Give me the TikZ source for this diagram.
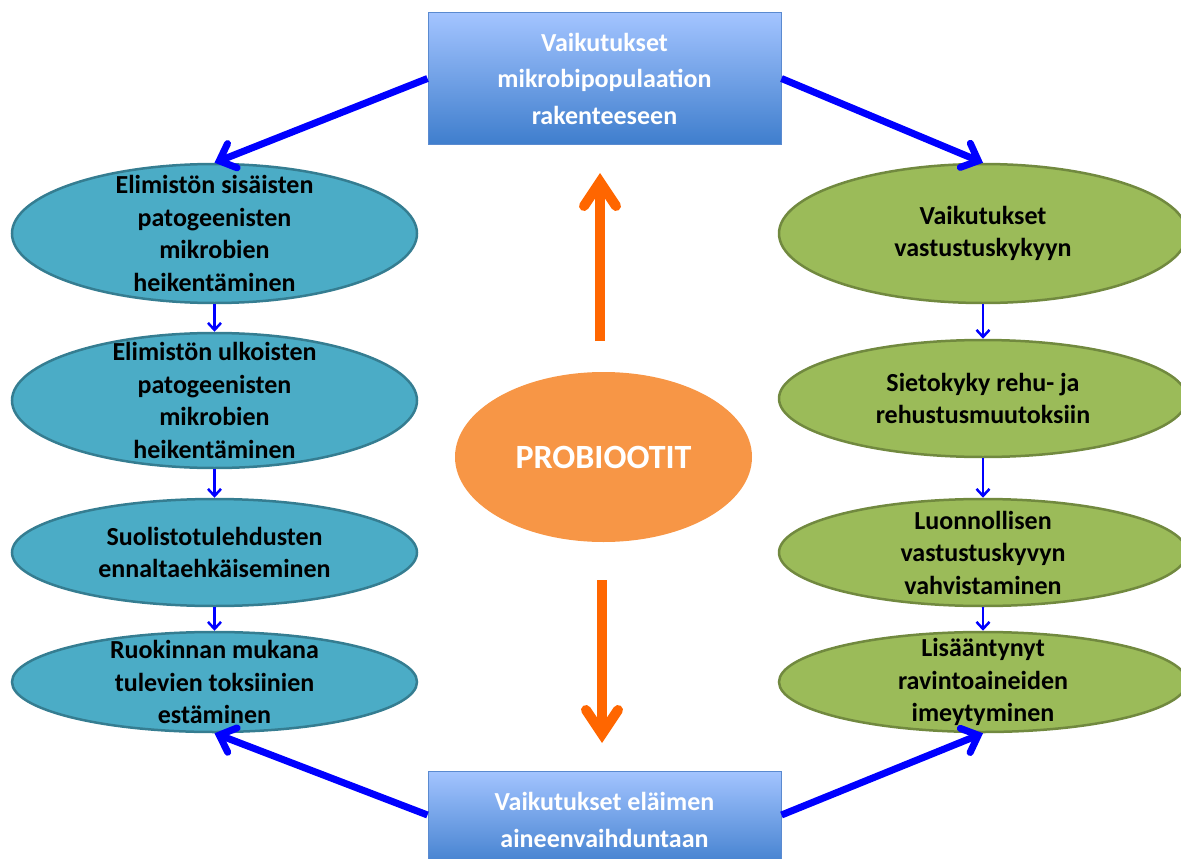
\documentclass[tikz,border=0pt]{standalone}
\usepackage{fontspec}
\setmainfont{Carlito}
\usetikzlibrary{arrows.meta,shapes.geometric}
\definecolor{tealF}{HTML}{4BACC6}
\definecolor{tealD}{HTML}{357D91}
\definecolor{greenF}{HTML}{9BBB59}
\definecolor{greenD}{HTML}{71893F}
\definecolor{orangeF}{HTML}{F79646}
\definecolor{boxTop}{HTML}{A3C4FF}
\definecolor{boxBot}{HTML}{3F7ECD}
\definecolor{boxLine}{HTML}{5A8AD0}
\definecolor{arrBlue}{HTML}{0000FF}
\definecolor{arrOrange}{HTML}{FF6600}
\begin{document}
\begin{tikzpicture}[x=1pt,y=-1pt,
  ell/.style={ellipse, inner sep=0pt, line width=2.5pt},
  lell/.style={ell, fill=tealF, draw=tealD},
  rell/.style={ell, fill=greenF, draw=greenD},
  etext/.style={font=\fontsize{26}{32.5}\selectfont\bfseries, align=center, inner sep=0pt, text=black},
  btext/.style={font=\fontsize{26}{36.5}\selectfont\bfseries, align=center, inner sep=0pt, text=white},
  gbox/.style={rectangle, inner sep=0pt, top color=boxTop, bottom color=boxBot, draw=boxLine, line width=1pt},
  bigarrow/.style={draw=arrBlue, line width=7pt, -{Straight Barb[length=14pt,width=26pt,line cap=round,line join=miter]}},
  smallarrow/.style={draw=arrBlue, line width=2.5pt, -{Straight Barb[length=7pt,width=13pt]}},
  orangearrow/.style={draw=arrOrange, line width=10pt, -{Straight Barb[length=24pt,width=32pt,line cap=round,line join=miter]}},
]
\useasboundingbox (0,0) rectangle (1181,859);
\clip (0,0) rectangle (1181,859);

% boxes
\node[gbox, minimum width=353pt, minimum height=131pt] (T) at (604.5,78.5) {};
\node[btext] (Tt) at (T.center) {Vaikutukset\\mikrobipopulaation\\rakenteeseen};
\node[gbox, minimum width=353pt, minimum height=98pt] (B) at (604.5,820) {};
\node[btext] (Bt) at (B.center) {Vaikutukset eläimen\\aineenvaihduntaan};

% centre
\node[ellipse, inner sep=0pt, fill=orangeF, minimum width=297pt, minimum height=170pt] (P) at (603.5,457) {};
\node[font=\fontsize{34}{40}\selectfont\bfseries, text=white, inner sep=0pt] (Pt) at (P.center) {PROBIOOTIT};

% left column
\node[lell, minimum width=405pt, minimum height=139pt] (L1) at (214.5,233.5) {};
\node[etext] (L1t) at (L1.center) {Elimistön sisäisten\\patogeenisten\\mikrobien\\heikentäminen};
\node[lell, minimum width=405pt, minimum height=135pt] (L2) at (214.5,400.5) {};
\node[etext] (L2t) at (L2.center) {Elimistön ulkoisten\\patogeenisten\\mikrobien\\heikentäminen};
\node[lell, minimum width=405pt, minimum height=107pt] (L3) at (214.5,552.5) {};
\node[etext] (L3t) at (L3.center) {Suolistotulehdusten\\ennaltaehkäiseminen};
\node[lell, minimum width=405pt, minimum height=100pt] (L4) at (214.5,682) {};
\node[etext] (L4t) at (L4.center) {Ruokinnan mukana\\tulevien toksiinien\\estäminen};

% right column
\node[rell, minimum width=408pt, minimum height=139pt] (R1) at (983,233.5) {};
\node[etext] (R1t) at (R1.center) {Vaikutukset\\vastustuskykyyn};
\node[rell, minimum width=408pt, minimum height=117pt] (R2) at (983,398.5) {};
\node[etext] (R2t) at (R2.center) {Sietokyky rehu- ja\\rehustusmuutoksiin};
\node[rell, minimum width=408pt, minimum height=107pt] (R3) at (983,552.5) {};
\node[etext] (R3t) at (R3.center) {Luonnollisen\\vastustuskyvyn\\vahvistaminen};
\node[rell, minimum width=408pt, minimum height=100pt] (R4) at (983,682) {};
\node[etext] (R4t) at (R4.center) {Lisääntynyt\\ravintoaineiden\\imeytyminen};

% small arrows
\draw[smallarrow] (L1.south) -- (L2.north);
\draw[smallarrow] (L2.south) -- (L3.north);
\draw[smallarrow] (L3.south) -- (L4.north);
\draw[smallarrow] (R1.south) -- (R2.north);
\draw[smallarrow] (R2.south) -- (R3.north);
\draw[smallarrow] (R3.south) -- (R4.north);

% big blue arrows
\draw[bigarrow] (T.west) -- (L1.north);
\draw[bigarrow] (T.east) -- (R1.north);
\draw[bigarrow] ([yshift=5pt]B.west) -- (L4.south);
\draw[bigarrow] ([yshift=5pt]B.east) -- (R4.south);

% orange arrows
\coordinate (OU1) at (600,341);
\coordinate (OU2) at (600,173);
\coordinate (OD1) at (602,580);
\coordinate (OD2) at (602,743);
\draw[orangearrow] (OU1) -- (OU2);
\draw[orangearrow] (OD1) -- (OD2);
\end{tikzpicture}
\end{document}
